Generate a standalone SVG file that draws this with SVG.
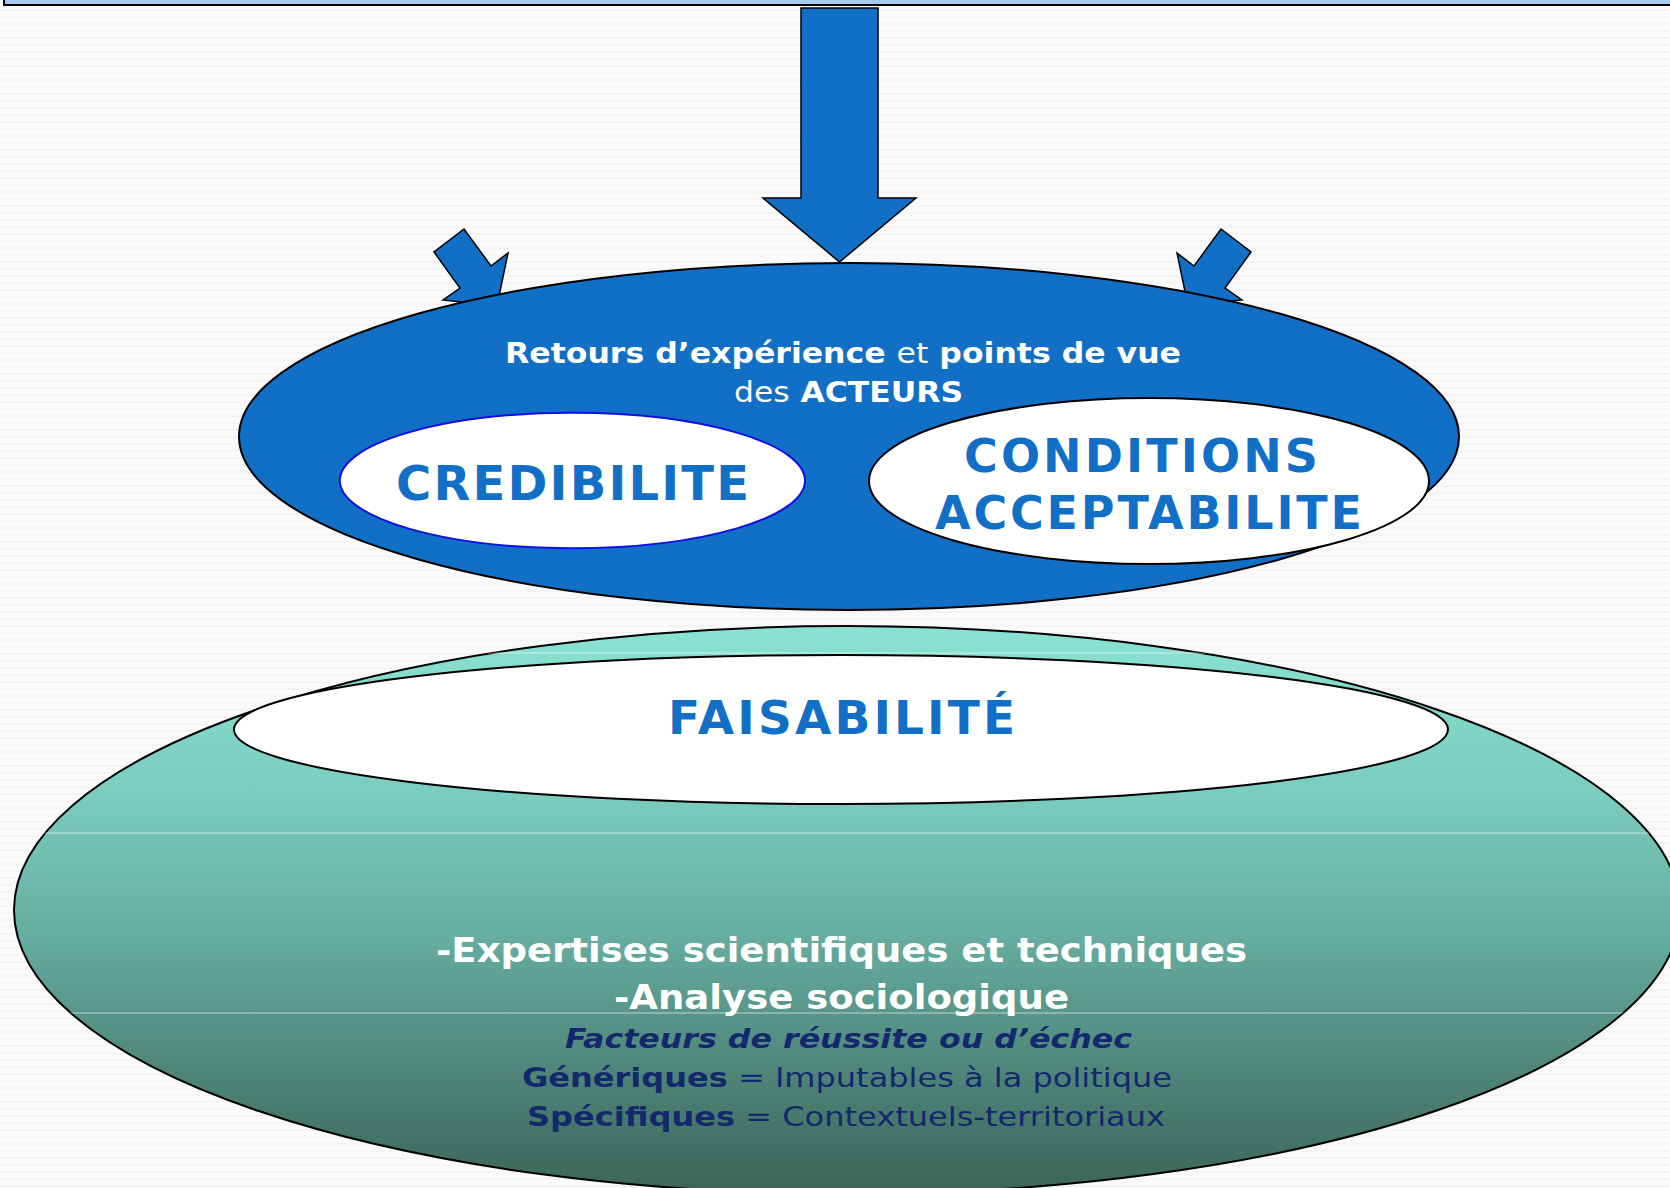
<svg xmlns="http://www.w3.org/2000/svg" width="1670" height="1188" viewBox="0 0 1670 1188">
  <defs>
    <pattern id="bgp" width="8" height="7" patternUnits="userSpaceOnUse">
      <rect width="8" height="7" fill="#FAFAFA"/>
      <path d="M0 4 L2 2 L4 4 L6 2 L8 4" fill="none" stroke="#EFEFEF" stroke-width="1"/>
    </pattern>
    <linearGradient id="teal" x1="0" y1="626" x2="0" y2="1194" gradientUnits="userSpaceOnUse">
      <stop offset="0" stop-color="#8AE2D2"/>
      <stop offset="0.3" stop-color="#7ACCBE"/>
      <stop offset="0.55" stop-color="#66ACA0"/>
      <stop offset="0.78" stop-color="#4E8679"/>
      <stop offset="1" stop-color="#3C6458"/>
    </linearGradient>
    <clipPath id="tealclip">
      <ellipse cx="847" cy="910" rx="833" ry="284"/>
    </clipPath>
    <style>
      .arrow { fill: #126FC6; stroke: #000; stroke-width: 1.5; stroke-linejoin: miter; }
      .blue-t { fill: #126FC6; font-family: "DejaVu Sans", Verdana, sans-serif; font-weight: bold; }
      .white-t { fill: #FFFFFF; font-family: "DejaVu Sans", Verdana, sans-serif; font-weight: bold; }
      .navy-t { fill: #14286E; font-family: "DejaVu Sans", Verdana, sans-serif; }
      .reg { font-weight: normal; }
      .bld { font-weight: bold; }
    </style>
  </defs>

  <rect x="0" y="0" width="1670" height="1188" fill="url(#bgp)"/>

  <g id="top-bar">
    <rect x="4" y="-10" width="1680" height="15" fill="#A5C9EF" stroke="#000" stroke-width="2"/>
  </g>

  <g id="connectors">
    <polygon class="arrow" points="801,8 878,8 878,198 916,198 839.5,262 763,198 801,198"/>
    <polygon class="arrow" points="464,229 434,252 460,288 443,300 497,306 508,253 491,266"/>
    <polygon class="arrow" points="1221,229 1251,252 1225,288 1242,300 1188,306 1177,253 1194,266"/>
  </g>

  <g id="acteurs">
    <ellipse cx="849" cy="436.5" rx="610" ry="173.5" fill="#126FC6" stroke="#000" stroke-width="2"/>
    <text class="white-t" font-size="28" x="843" y="363" text-anchor="middle" textLength="676" lengthAdjust="spacingAndGlyphs">Retours d’expérience <tspan class="reg">et</tspan> points de vue</text>
    <text class="white-t" font-size="28" x="848.5" y="401.5" text-anchor="middle" textLength="229" lengthAdjust="spacingAndGlyphs"><tspan class="reg">des</tspan> ACTEURS</text>
  </g>

  <g id="credibilite">
    <ellipse cx="572.4" cy="480.5" rx="232.6" ry="67.7" fill="#FFFFFF" stroke="#1010E0" stroke-width="2"/>
    <text class="blue-t" font-size="48" x="572.5" y="500" text-anchor="middle" textLength="353">CREDIBILITE</text>
  </g>

  <g id="conditions">
    <ellipse cx="1149" cy="481" rx="280" ry="83" fill="#FFFFFF" stroke="#000" stroke-width="2"/>
    <text class="blue-t" font-size="46" x="1141" y="471.5" text-anchor="middle" textLength="354">CONDITIONS</text>
    <text class="blue-t" font-size="46" x="1148.5" y="528.5" text-anchor="middle" textLength="427">ACCEPTABILITE</text>
  </g>

  <g id="faisabilite">
    <ellipse cx="847" cy="910" rx="833" ry="284" fill="url(#teal)" stroke="#000" stroke-width="2"/>
    <g clip-path="url(#tealclip)" stroke="#FFFFFF" stroke-opacity="0.4" stroke-width="1.5">
      <line x1="0" y1="653" x2="1670" y2="653"/>
      <line x1="0" y1="833" x2="1670" y2="833"/>
      <line x1="0" y1="1013" x2="1670" y2="1013"/>
    </g>
    <ellipse cx="841" cy="729.5" rx="607" ry="74.5" fill="#FFFFFF" stroke="#000" stroke-width="2"/>
    <text class="blue-t" font-size="47" x="841.5" y="734" text-anchor="middle" textLength="347">FAISABILITÉ</text>
    <text class="white-t" font-size="33" x="841.5" y="962" text-anchor="middle" textLength="811" lengthAdjust="spacingAndGlyphs">-Expertises scientifiques et techniques</text>
    <text class="white-t" font-size="33" x="841.5" y="1009" text-anchor="middle" textLength="455" lengthAdjust="spacingAndGlyphs">-Analyse sociologique</text>
    <text class="navy-t" font-size="26" font-weight="bold" font-style="italic" x="848.5" y="1048" text-anchor="middle" textLength="567" lengthAdjust="spacingAndGlyphs">Facteurs de réussite ou d’échec</text>
    <text class="navy-t" font-size="27" x="847" y="1087" text-anchor="middle" textLength="650" lengthAdjust="spacingAndGlyphs"><tspan class="bld">Génériques</tspan> = Imputables à la politique</text>
    <text class="navy-t" font-size="27" x="846" y="1126" text-anchor="middle" textLength="638" lengthAdjust="spacingAndGlyphs"><tspan class="bld">Spécifiques</tspan> = Contextuels-territoriaux</text>
  </g>
</svg>
